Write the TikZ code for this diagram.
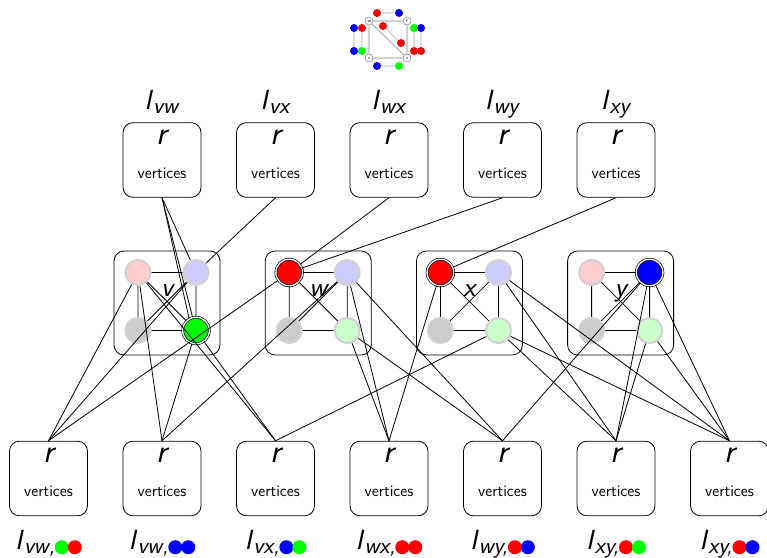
\documentclass[tikz,border=0pt]{standalone}
\usepackage{tikz}
\usetikzlibrary{shapes,positioning}

\definecolor{palered}{RGB}{255,204,204}
\definecolor{paleblue}{RGB}{204,204,255}
\definecolor{palegreen}{RGB}{204,255,204}
\definecolor{palegray}{RGB}{204,204,204}
\definecolor{ringgray}{RGB}{210,210,210}

\newcommand{\Iname}[1]{\textsl{I}\raisebox{-3pt}{\fontsize{17.28}{18}\selectfont\textsl{#1}}}
\newcommand{\pair}[2]{\tikz[baseline=-1.5pt]{\fill[#1] (0,0) circle (5.25pt); \fill[#2] (9.75pt,0) circle (5.25pt);}}

\tikzstyle{block} = [rectangle, draw, rounded corners=7.5pt, minimum width=58.5pt, minimum height=56pt, line width=0.6pt,
    label={[anchor=base, yshift=-16.5pt, font=\Huge\sffamily\slshape]north:r},
    label={[anchor=base, yshift=-42pt, font=\large\sffamily]north:vertices}]
\tikzstyle{gadget} = [rectangle, draw, rounded corners=7.5pt, minimum width=79.5pt, minimum height=78pt, line width=0.6pt]
\tikzstyle{off} = [circle, draw=ringgray, line width=1.6pt, minimum size=18.75pt, inner sep=0pt]
\tikzstyle{on} = [circle, draw, double=white, double distance=1pt, line width=0.5pt, minimum size=20pt, inner sep=0pt]
\tikzstyle{setname} = [font=\huge\sffamily, inner sep=0pt, anchor=base]
\tikzstyle{gname} = [font=\huge\sffamily\slshape, inner sep=0pt, anchor=base]
\tikzstyle{tiny} = [circle, draw=gray, fill=white, minimum size=6pt, inner sep=0pt, font=\fontsize{3.5}{3.5}\sffamily\slshape]
\tikzstyle{dot} = [circle, minimum size=6pt, inner sep=0pt]
\tikzstyle{link} = [line width=0.6pt]

\begin{document}
\begin{tikzpicture}[x=0.75pt, y=-0.75pt, node distance=85.125pt]
  \useasboundingbox (0,0) rectangle (767,557);

  % small graph on top
  \node [tiny] (sw) at (369,21) {w};
  \node [tiny] (sy) at (407,21) {y};
  \node [tiny] (sv) at (369,58) {v};
  \node [tiny] (sx) at (407,58) {x};
  \draw [gray] (sw) -- (sy) (sw) -- (sv) (sy) -- (sx) (sv) -- (sx) (sw) -- (sx);

  \node [dot, fill=red] (wyr) at (377,13) {};
  \node [dot, fill=blue] (wyb) at (399,13) {};
  \node [dot, fill=blue] (vwb1) at (354,28) {};
  \node [dot, fill=blue] (vwb2) at (354,51) {};
  \node [dot, fill=red] (vwr) at (362,28) {};
  \node [dot, fill=green] (vwg) at (362,51) {};
  \node [dot, fill=green] (xyg) at (414,28) {};
  \node [dot, fill=red] (xyr1) at (414,51) {};
  \node [dot, fill=blue] (xyb) at (421,28) {};
  \node [dot, fill=red] (xyr2) at (421,51) {};
  \node [dot, fill=blue] (vxb) at (377,66) {};
  \node [dot, fill=green] (vxg) at (399,66) {};
  \node [dot, fill=red] (wxr1) at (383,26) {};
  \node [dot, fill=red] (wxr2) at (401,43) {};
  \draw [palegray, line width=0.8pt] (wyr) -- (wyb) (vwb1) -- (vwb2) (vwr) -- (vwg)
    (xyg) -- (xyr1) (xyb) -- (xyr2) (vxb) -- (vxg) (wxr1) -- (wxr2);

  % edge sets
  \node [block] (tvw) at (162,160) {};
  \node [block, right of=tvw] (tvx) {};
  \node [block, right of=tvx] (twx) {};
  \node [block, right of=twx] (twy) {};
  \node [block, right of=twy] (txy) {};

  \node [setname] (lvw) at ([yshift=9.75pt]tvw.north) {\Iname{vw}};
  \node [setname] (lvx) at ([yshift=9.75pt]tvx.north) {\Iname{vx}};
  \node [setname] (lwx) at ([yshift=9.75pt]twx.north) {\Iname{wx}};
  \node [setname] (lwy) at ([yshift=9.75pt]twy.north) {\Iname{wy}};
  \node [setname] (lxy) at ([yshift=9.75pt]txy.north) {\Iname{xy}};

  % colour pair sets
  \node [block] (bvwgr) at (48.5,478.5) {};
  \node [block, right of=bvwgr] (bvwbb) {};
  \node [block, right of=bvwbb] (bvxbg) {};
  \node [block, right of=bvxbg] (bwxrr) {};
  \node [block, right of=bwxrr] (bwyrb) {};
  \node [block, right of=bwyrb] (bxyrg) {};
  \node [block, right of=bxyrg] (bxyrb) {};

  \node [setname] (lvwgr) at ([yshift=-24.75pt]bvwgr.south) {\Iname{vw,}\pair{green}{red}};
  \node [setname] (lvwbb) at ([yshift=-24.75pt]bvwbb.south) {\Iname{vw,}\pair{blue}{blue}};
  \node [setname] (lvxbg) at ([yshift=-24.75pt]bvxbg.south) {\Iname{vx,}\pair{blue}{green}};
  \node [setname] (lwxrr) at ([yshift=-24.75pt]bwxrr.south) {\Iname{wx,}\pair{red}{red}};
  \node [setname] (lwyrb) at ([yshift=-24.75pt]bwyrb.south) {\Iname{wy,}\pair{red}{blue}};
  \node [setname] (lxyrg) at ([yshift=-24.75pt]bxyrg.south) {\Iname{xy,}\pair{red}{green}};
  \node [setname] (lxyrb) at ([yshift=-24.75pt]bxyrb.south) {\Iname{xy,}\pair{red}{blue}};

  % vertex gadgets
  \node [gadget] (gv) at (167,303) {};
  \node [gadget] (gw) at (318.2,303) {};
  \node [gadget] (gx) at (469.4,303) {};
  \node [gadget] (gy) at (620.6,303) {};

  \node [gname] (nv) at (167,296) {v};
  \node [gname] (nw) at (318.2,296) {w};
  \node [gname] (nx) at (469.4,296) {x};
  \node [gname] (ny) at (620.6,296) {y};

  \node [off, fill=palered] (vred) at (138,272.5) {};
  \node [off, fill=paleblue] (vblue) at (196,272.5) {};
  \node [off, fill=palegray] (vgray) at (138,330.5) {};
  \node [on, fill=green] (vgreen) at (196,330.5) {};

  \node [on, fill=red] (wred) at (289.2,272.5) {};
  \node [off, fill=paleblue] (wblue) at (347.2,272.5) {};
  \node [off, fill=palegray] (wgray) at (289.2,330.5) {};
  \node [off, fill=palegreen] (wgreen) at (347.2,330.5) {};

  \node [on, fill=red] (xred) at (440.4,272.5) {};
  \node [off, fill=paleblue] (xblue) at (498.4,272.5) {};
  \node [off, fill=palegray] (xgray) at (440.4,330.5) {};
  \node [off, fill=palegreen] (xgreen) at (498.4,330.5) {};

  \node [off, fill=palered] (yred) at (591.6,272.5) {};
  \node [on, fill=blue] (yblue) at (649.6,272.5) {};
  \node [off, fill=palegray] (ygray) at (591.6,330.5) {};
  \node [off, fill=palegreen] (ygreen) at (649.6,330.5) {};

  \draw [link] (vred) -- (vblue) -- (vgreen) -- (vgray) -- (vred) -- (vgreen) (vblue) -- (vgray);
  \draw [link] (wred) -- (wblue) -- (wgreen) -- (wgray) -- (wred) -- (wgreen) (wblue) -- (wgray);
  \draw [link] (xred) -- (xblue) -- (xgreen) -- (xgray) -- (xred) -- (xgreen) (xblue) -- (xgray);
  \draw [link] (yred) -- (yblue) -- (ygreen) -- (ygray) -- (yred) -- (ygreen) (yblue) -- (ygray);

  % edges to the top sets
  \draw [link] (tvw.south) -- (vblue);
  \draw [link] (tvw.south) -- (vgreen);
  \draw [link] (tvw.south) -- (vgreen.120);
  \draw [link] (tvx.south) -- (vblue);
  \draw [link] (twx.south) -- (wred);
  \draw [link] (twy.south) -- (wred);
  \draw [link] (txy.south) -- (xred);

  % edges to the bottom sets
  \draw [link] (bvwgr.north) -- (vred);
  \draw [link] (bvwgr.north) -- (vblue);
  \draw [link] (bvwgr.north) -- (wred);
  \draw [link] (bvwbb.north) -- (vred);
  \draw [link] (bvwbb.north) -- (vgreen);
  \draw [link] (bvwbb.north) -- (wblue);
  \draw [link] (bvxbg.north) -- (vred);
  \draw [link] (bvxbg.north) -- (vgreen);
  \draw [link] (bvxbg.north) -- (xgreen);
  \draw [link] (bwxrr.north) -- (wblue);
  \draw [link] (bwxrr.north) -- (wgreen);
  \draw [link] (bwxrr.north) -- (xred);
  \draw [link] (bwyrb.north) -- (wblue);
  \draw [link] (bwyrb.north) -- (wgreen);
  \draw [link] (bwyrb.north) -- (yblue);
  \draw [link] (bxyrg.north) -- (xblue);
  \draw [link] (bxyrg.north) -- (xgreen);
  \draw [link] (bxyrg.north) -- (yblue);
  \draw [link] (bxyrg.north) -- (ygreen);
  \draw [link] (bxyrb.north) -- (xblue);
  \draw [link] (bxyrb.north) -- (xgreen);
  \draw [link] (bxyrb.north) -- (yblue);
  \draw [link] (bxyrb.north) -- (ygreen);
\end{tikzpicture}
\end{document}
